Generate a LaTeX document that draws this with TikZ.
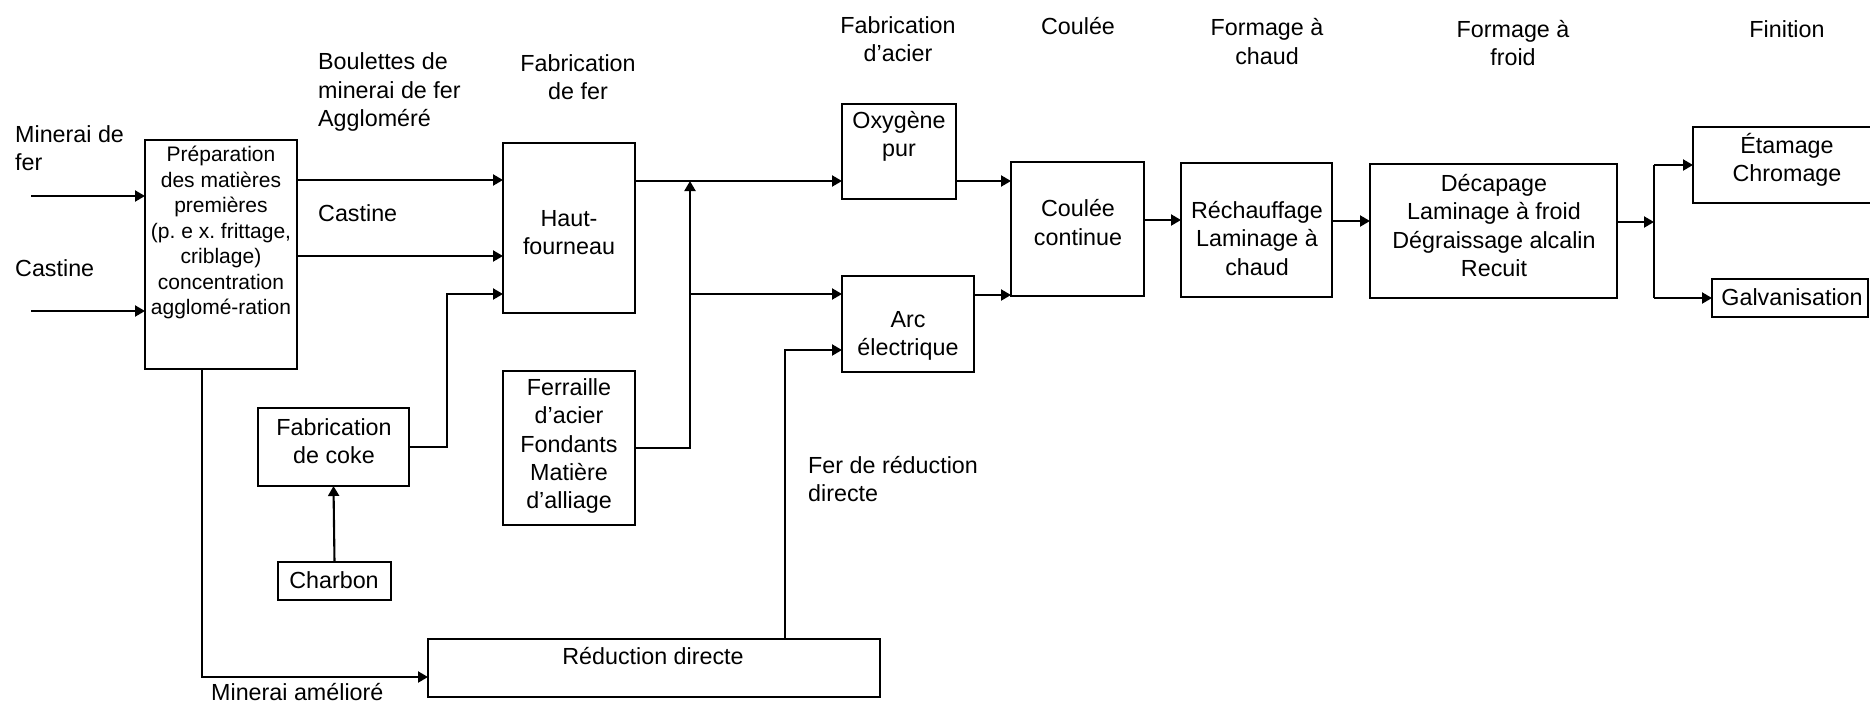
\documentclass[tikz,border=0pt]{standalone}
\usepackage{fontspec}
\setmainfont{Liberation Sans}
\usetikzlibrary{arrows.meta}
\frenchspacing
\begin{document}
\begin{tikzpicture}[x=1pt,y=-1pt,
  box/.style={draw, line width=2.1pt, inner sep=0pt, outer sep=0pt},
  txt/.style={font=\fontsize{23.3}{28.3}\selectfont, align=center, inner sep=0pt},
  txtsmall/.style={font=\fontsize{21}{25.5}\selectfont, align=center, inner sep=0pt},
  txtleft/.style={txt, align=left, anchor=west},
  flow/.style={line width=2.1pt, -{Triangle[length=10pt,width=11pt]}},
  plain/.style={line width=2.1pt}]
\useasboundingbox (0,0) rectangle (1870,702);

% ---- process boxes ----
\node[box, minimum width=152pt, minimum height=229pt] (prep) at (221,254.5) {};
\node[box, minimum width=132pt, minimum height=170pt] (hf)   at (569,228) {};
\node[box, minimum width=132pt, minimum height=154pt] (ferr) at (569,448) {};
\node[box, minimum width=151pt, minimum height=78pt]  (coke) at (333.5,447) {};
\node[box, minimum width=113pt, minimum height=38pt]  (charb) at (334.5,581) {};
\node[box, minimum width=452pt, minimum height=58pt]  (red)  at (654,668) {};
\node[box, minimum width=114pt, minimum height=95pt]  (oxy)  at (899,151.5) {};
\node[box, minimum width=132pt, minimum height=96pt]  (arc)  at (908,324) {};
\node[box, minimum width=133pt, minimum height=134pt] (coul) at (1077.5,229) {};
\node[box, minimum width=151pt, minimum height=134pt] (rech) at (1256.5,230) {};
\node[box, minimum width=247pt, minimum height=134pt] (deca) at (1493.5,231) {};
\node[box, minimum width=188pt, minimum height=76pt]  (etam) at (1787,165) {};
\node[box, minimum width=156pt, minimum height=38pt]  (galv) at (1790,298) {};

% ---- box texts ----
\node[txtsmall] (prepT) at (221,232.5) {Préparation\\des matières\\premières\\(p. e x. frittage,\\criblage)\\concentration\\agglomé-ration};
\node[txt] (hfT)    at (569,232.5) {Haut-\\fourneau};
\node[txt] (ferrT)  at (569,446) {Ferraille\\d’acier\\Fondants\\Matière\\d’alliage};
\node[txt] (cokeT)  at (334,441.5) {Fabrication\\de coke};
\node[txt] (charbT) at (334,580) {Charbon};
\node[txt] (redT)   at (653,656) {Réduction directe};
\node[txt] (oxyT)   at (899,136.5) {Oxygène\\pur};
\node[txt] (arcT)   at (908,336) {Arc\\électrique};
\node[txt] (coulT)  at (1078,222.5) {Coulée\\continue};
\node[txt] (rechT)  at (1257,238.5) {Réchauffage\\Laminage à\\chaud};
\node[txt] (decaT)  at (1494,225.5) {Décapage\\Laminage à froid\\Dégraissage alcalin\\Recuit};
\node[txt] (etamT)  at (1787,159.5) {Étamage\\Chromage};
\node[txt] (galvT)  at (1792,297) {Galvanisation};

% ---- stage headings and flow labels ----
\node[txtleft] (hMin)  at (15,148.5) {Minerai de\\fer};
\node[txtleft] (hCas)  at (15,268) {Castine};
\node[txtleft] (hBoul) at (318,92) {Boulettes de\\minerai de fer\\Aggloméré};
\node[txtleft] (hCas2) at (318,213) {Castine};
\node[txt] (hFer)   at (578,77.5) {Fabrication\\de fer};
\node[txt] (hAcier) at (898,39.5) {Fabrication\\d’acier};
\node[txt] (hCoul)  at (1078,26) {Coulée};
\node[txt] (hChaud) at (1267,41.5) {Formage à\\chaud};
\node[txt] (hFroid) at (1513,43) {Formage à\\froid};
\node[txt] (hFin)   at (1787,29) {Finition};
\node[txtleft] (hDri)  at (808,479) {Fer de réduction\\directe};
\node[txtleft] (hMam)  at (211,692) {Minerai amélioré};

% ---- bend and branch points ----
\coordinate (in1) at (31,196);
\coordinate (in2) at (31,311);
\coordinate (yBoul) at (0,180);
\coordinate (yCas) at (0,256);
\coordinate (jCoke) at (447,294);
\coordinate (jMin) at (202,677);
\coordinate (jFer) at (690,181);
\coordinate (jArc) at (690,294);
\coordinate (jDri) at (785,350);
\coordinate (yArcOut) at (0,295);
\coordinate (yCoul) at (0,220);
\coordinate (yRech) at (0,221);
\coordinate (jFin) at (1654,222);
\coordinate (jEt) at (1654,165);
\coordinate (jGa) at (1654,298);

% ---- connectors ----
\draw[flow] (in1) -- (prep.west |- in1);
\draw[flow] (in2) -- (prep.west |- in2);
\draw[flow] (prep.east |- yBoul) -- (hf.west |- yBoul);
\draw[flow] (prep.east |- yCas) -- (hf.west |- yCas);
\draw[flow] (coke.east) -| (jCoke) -- (hf.west |- jCoke);
\draw[flow] (charb.north) -- (coke.south);
\draw[flow] (prep.south -| jMin) -- (jMin) -- (red.west |- jMin);
\draw[flow] (ferr.east) -| (jFer);
\draw[flow] (hf.east |- jFer) -- (oxy.west |- jFer);
\draw[flow] (jArc) -- (arc.west |- jArc);
\draw[flow] (red.north -| jDri) -- (jDri) -- (arc.west |- jDri);
\draw[flow] (oxy.east |- jFer) -- (coul.west |- jFer);
\draw[flow] (arc.east |- yArcOut) -- (coul.west |- yArcOut);
\draw[flow] (coul.east |- yCoul) -- (rech.west |- yCoul);
\draw[flow] (rech.east |- yRech) -- (deca.west |- yRech);
\draw[flow] (deca.east |- jFin) -- (jFin);
\draw[plain] (jEt) -- (jGa);
\draw[flow] (jEt) -- (etam.west |- jEt);
\draw[flow] (jGa) -- (galv.west |- jGa);
\end{tikzpicture}
\end{document}
